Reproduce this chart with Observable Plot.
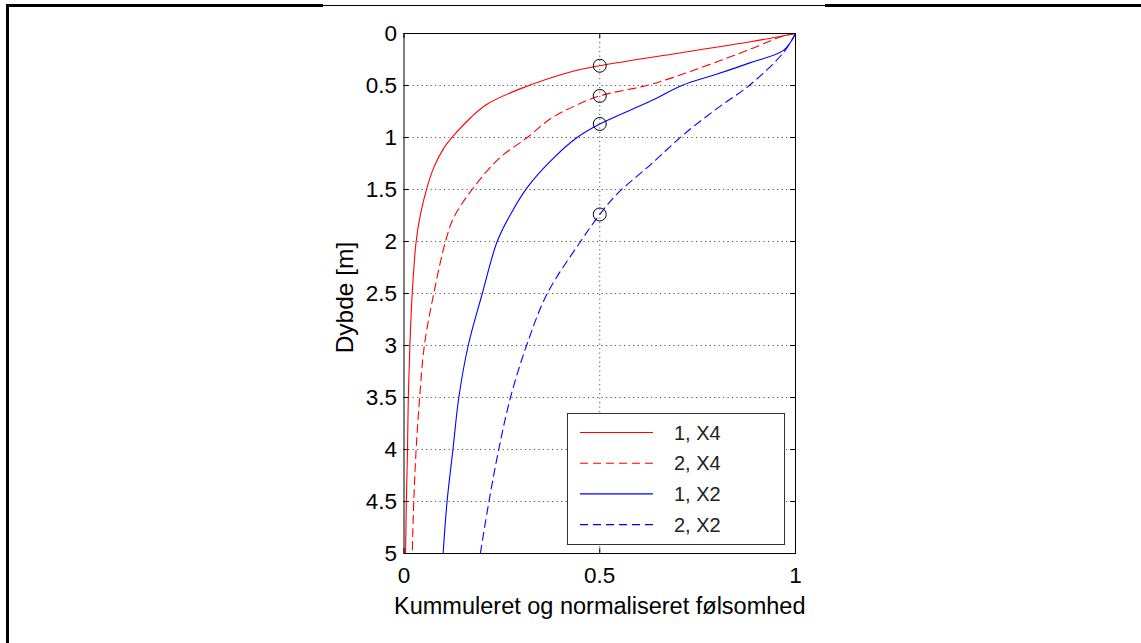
<!DOCTYPE html>
<html>
<head>
<meta charset="utf-8">
<script src="https://cdn.jsdelivr.net/npm/d3@7"></script>
<script src="https://cdn.jsdelivr.net/npm/@observablehq/plot@0.6"></script>
<style>
  html, body { margin: 0; padding: 0; background: #fff; }
  #wrap { position: relative; width: 1141px; height: 643px; overflow: hidden; font-family: "Liberation Sans", Arial, sans-serif; }
  .bar { position: absolute; background: #000; }
  #legend { position: absolute; }
</style>
</head>
<body>
<div id="wrap"></div>
<script>
// ---- data ----
const seriesNames = ["1, X4", "2, X4", "1, X2", "2, X2"];
const seriesColors = ["#ff0000", "#ff0000", "#0000ff", "#0000ff"];
const seriesDashed = [false, true, false, true];

const depth1X4 = [0, 0.08, 0.18, 0.31, 0.36, 0.53, 0.68, 0.81, 0.98, 1.1, 1.29, 1.48, 1.74, 2.0, 2.5, 3.0, 3.5, 4.0, 4.5, 5.0];
const sens1X4  = [1, 0.885, 0.715, 0.5, 0.434, 0.298, 0.212, 0.170, 0.127, 0.102, 0.076, 0.059, 0.042, 0.031, 0.021, 0.015, 0.011, 0.009, 0.006, 0.004];

const depth2X4 = [0, 0.02, 0.15, 0.33, 0.49, 0.6, 0.70, 0.82, 1.0, 1.19, 1.48, 1.77, 2.0, 2.5, 3.0, 3.5, 4.0, 4.5, 5.0];
const sens2X4  = [1, 0.971, 0.885, 0.757, 0.63, 0.5, 0.434, 0.374, 0.315, 0.246, 0.178, 0.127, 0.106, 0.076, 0.052, 0.040, 0.031, 0.025, 0.021];

const depth1X2 = [0, 0.16, 0.28, 0.39, 0.5, 0.65, 0.87, 1.0, 1.22, 1.48, 1.74, 2.0, 2.5, 3.0, 3.5, 4.0, 4.5, 5.0];
const sens1X2  = [1, 0.97, 0.885, 0.8, 0.71, 0.63, 0.5, 0.442, 0.376, 0.315, 0.272, 0.238, 0.2, 0.164, 0.140, 0.125, 0.110, 0.100];

const depth2X2 = [0, 0.18, 0.49, 0.72, 0.97, 1.26, 1.54, 1.74, 2.0, 2.5, 3.0, 3.5, 4.0, 4.5, 5.0];
const sens2X2  = [1, 0.97, 0.885, 0.8, 0.715, 0.63, 0.545, 0.5, 0.451, 0.366, 0.313, 0.272, 0.242, 0.217, 0.195];

const markerSens  = [0.5, 0.5, 0.5, 0.5];
const markerDepth = [0.31, 0.60, 0.87, 1.74];

const xTicks = [0, 0.5, 1];
const yTicks = [0, 0.5, 1, 1.5, 2, 2.5, 3, 3.5, 4, 4.5, 5];
const xLabel = "Kummuleret og normaliseret følsomhed";
const yLabel = "Dybde [m]";

// ---- build tables ----
const allDepths = [depth1X4, depth2X4, depth1X2, depth2X2];
const allSens = [sens1X4, sens2X4, sens1X2, sens2X2];
const series = seriesNames.map((name, i) => ({
  name, color: seriesColors[i], dashed: seriesDashed[i],
  points: allDepths[i].map((d, j) => ({depth: d, sens: allSens[i][j]}))
}));
const markers = markerSens.map((s, i) => ({sens: s, depth: markerDepth[i]}));

const W = 1141, H = 643;
const mL = 403.5, mR = 346, mT = 33, mB = 90;
const plotW = W - mL - mR, plotH = H - mT - mB;
const font = "'Liberation Sans', Arial, sans-serif";
const gridStyle = {stroke: "#333", strokeOpacity: 0.85, strokeDasharray: "1.2,3.3", strokeWidth: 1};

const marks = [
  Plot.ruleY(yTicks.filter(t => t > 0 && t < 5), {y: d => d, ...gridStyle}),
  Plot.ruleX(xTicks.filter(t => t > 0 && t < 1), {x: d => d, ...gridStyle}),
  // inward ticks on all four sides
  Plot.tickY(yTicks, {y: d => d, stroke: "#000", insetRight: plotW - 5}),
  Plot.tickY(yTicks, {y: d => d, stroke: "#000", insetLeft: plotW - 5}),
  Plot.tickX(xTicks, {x: d => d, stroke: "#000", insetTop: plotH - 5}),
  Plot.tickX(xTicks, {x: d => d, stroke: "#000", insetBottom: plotH - 5}),
  ...series.map(s => Plot.line(s.points, {
    x: "sens", y: "depth", stroke: s.color, strokeWidth: 1.1,
    strokeDasharray: s.dashed ? "8,5" : null, curve: "catmull-rom"
  })),
  Plot.dot(markers, {x: "sens", y: "depth", r: 6.5, stroke: "#000", strokeWidth: 1, fill: "none"}),
  Plot.frame({stroke: "#000", strokeWidth: 1}),
  Plot.axisY(yTicks, {anchor: "left", tickSize: 0, tickPadding: 7, fontSize: 22.5, tickFormat: d => String(d), label: null}),
  Plot.axisX(xTicks, {anchor: "bottom", tickSize: 0, tickPadding: 14, fontSize: 22.5, tickFormat: d => String(d), label: null}),
  Plot.text([xLabel], {frameAnchor: "bottom", dy: 53, fontSize: 23.5, textAnchor: "middle", lineAnchor: "middle", fill: "#000"}),
  Plot.text([yLabel], {frameAnchor: "left", dx: -59, dy: 4, rotate: -90, fontSize: 24.5, textAnchor: "middle", lineAnchor: "middle", fill: "#000"})
];

const chart = Plot.plot({
  width: W, height: H,
  marginLeft: mL, marginRight: mR, marginTop: mT, marginBottom: mB,
  x: {domain: [0, 1], axis: null},
  y: {domain: [0, 5], reverse: true, axis: null},
  style: {fontFamily: font, color: "#000", background: "transparent", overflow: "visible"},
  marks
});

const wrap = document.getElementById("wrap");
wrap.appendChild(chart);

// page frame (decoration)
function bar(x, y, w, h) {
  const d = document.createElement("div");
  d.className = "bar";
  Object.assign(d.style, {left: x + "px", top: y + "px", width: w + "px", height: h + "px"});
  wrap.appendChild(d);
}
bar(6, 4, 3, H - 4);
bar(6, 4, 317, 3);
bar(323, 5, 502, 1);
bar(825, 4, W - 825, 3);

// legend (decoration built from series arrays)
const lg = d3.select(wrap).append("svg").attr("id", "legend")
  .attr("width", 220).attr("height", 134)
  .style("left", "566px").style("top", "412px");
lg.append("rect").attr("x", 1.5).attr("y", 1.5).attr("width", 217).attr("height", 131)
  .attr("fill", "#fff").attr("stroke", "#333").attr("stroke-width", 1);
series.forEach((s, i) => {
  const yy = 20.5 + i * 30.7;
  lg.append("line").attr("x1", 14).attr("x2", 87).attr("y1", yy).attr("y2", yy)
    .attr("stroke", s.color).attr("stroke-width", 1.1)
    .attr("stroke-dasharray", s.dashed ? "8,5" : null);
  lg.append("text").attr("x", 108).attr("y", yy + 7).text(s.name)
    .attr("font-family", font).attr("font-size", 20).attr("fill", "#222")
    .attr("xml:space", "preserve");
});
</script>
</body>
</html>
